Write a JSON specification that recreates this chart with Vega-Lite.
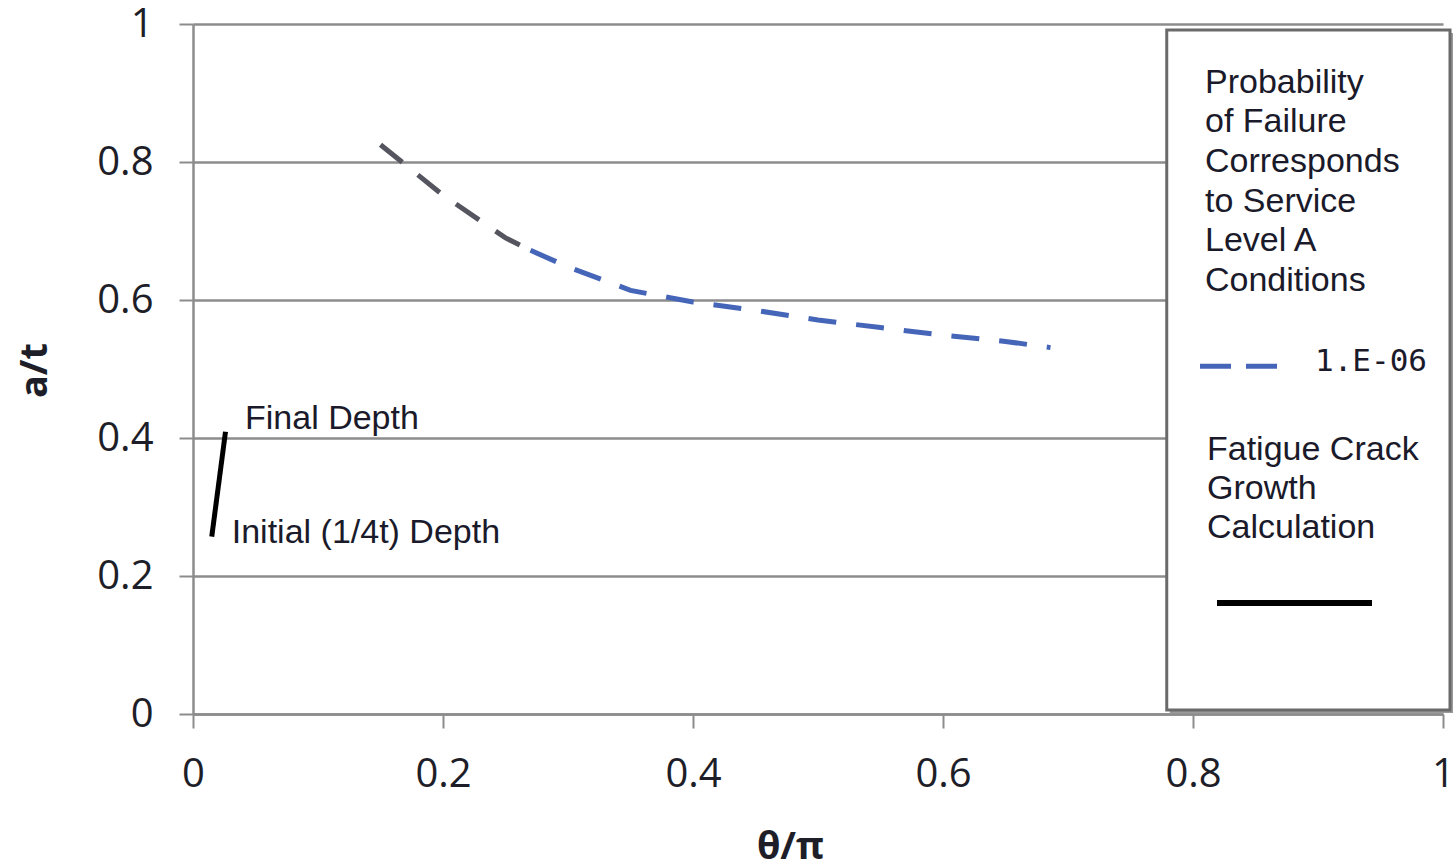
{
  "$schema": "https://vega.github.io/schema/vega-lite/v6.json",
  "width": 1250,
  "height": 690,
  "autosize": {"type": "none"},
  "padding": {"left": 193, "top": 24, "right": 13, "bottom": 154},
  "background": "white",
  "config": {
    "view": {"stroke": null},
    "axis": {
      "domainColor": "#8c8c8c",
      "domainWidth": 2.5,
      "tickColor": "#8c8c8c",
      "tickWidth": 2,
      "tickSize": 14,
      "labelFont": "Open Sans",
      "labelFontSize": 40,
      "labelColor": "#1e1e28",
      "labelFlush": false,
      "labelOverlap": false,
      "titleFont": "Open Sans",
      "titleFontSize": 38,
      "titleFontWeight": "bold",
      "titleColor": "#1e1e28",
      "gridColor": "#8c8c8c",
      "gridWidth": 2.5
    }
  },
  "datasets": {
    "pof": [
      {"x": 0.15, "y": 0.825, "series": "upper"},
      {"x": 0.2, "y": 0.752, "series": "upper"},
      {"x": 0.25, "y": 0.69, "series": "upper"},
      {"x": 0.27, "y": 0.672, "series": "upper"},
      {"x": 0.27, "y": 0.672, "series": "lower"},
      {"x": 0.3, "y": 0.648, "series": "lower"},
      {"x": 0.35, "y": 0.614, "series": "lower"},
      {"x": 0.4, "y": 0.597, "series": "lower"},
      {"x": 0.45, "y": 0.585, "series": "lower"},
      {"x": 0.5, "y": 0.571, "series": "lower"},
      {"x": 0.55, "y": 0.56, "series": "lower"},
      {"x": 0.6, "y": 0.549, "series": "lower"},
      {"x": 0.65, "y": 0.54, "series": "lower"},
      {"x": 0.686, "y": 0.531, "series": "lower"}
    ],
    "crack": [
      {"x": 0.015, "y": 0.257},
      {"x": 0.026, "y": 0.409}
    ],
    "notes": [
      {"x": 0.0416, "y": 0.4275, "label": "Final Depth"},
      {"x": 0.031, "y": 0.262, "label": "Initial (1/4t) Depth"}
    ],
    "legendBox": [
      {"x0": 0.779, "x1": 1.0056, "y0": 0.0058, "y1": 0.9913}
    ],
    "legendText": [
      {"x": 0.8096, "y": 0.9145, "label": "Probability"},
      {"x": 0.8096, "y": 0.858, "label": "of Failure"},
      {"x": 0.8096, "y": 0.8, "label": "Corresponds"},
      {"x": 0.8096, "y": 0.742, "label": "to Service"},
      {"x": 0.8096, "y": 0.686, "label": "Level A"},
      {"x": 0.8096, "y": 0.628, "label": "Conditions"},
      {"x": 0.8112, "y": 0.3826, "label": "Fatigue Crack"},
      {"x": 0.8112, "y": 0.326, "label": "Growth"},
      {"x": 0.8112, "y": 0.2696, "label": "Calculation"}
    ],
    "legendValue": [
      {"x": 0.8976, "y": 0.51, "label": "1.E-06"}
    ],
    "legendDash": [
      {"x": 0.8056, "y": 0.504},
      {"x": 0.868, "y": 0.504}
    ],
    "legendSolid": [
      {"x": 0.8192, "y": 0.1609},
      {"x": 0.9432, "y": 0.1609}
    ]
  },
  "encoding": {
    "x": {
      "field": "x",
      "type": "quantitative",
      "scale": {"domain": [0, 1], "nice": false, "zero": false},
      "axis": {
        "values": [0, 0.2, 0.4, 0.6, 0.8, 1],
        "format": "~g",
        "grid": false,
        "labelPadding": 26,
        "title": "θ/π",
        "titleX": 597,
        "titleY": 133,
        "titleBaseline": "middle",
        "titleAlign": "center"
      }
    },
    "y": {
      "field": "y",
      "type": "quantitative",
      "scale": {"domain": [0, 1], "nice": false, "zero": false},
      "axis": {
        "values": [0, 0.2, 0.4, 0.6, 0.8, 1],
        "format": "~g",
        "grid": true,
        "labelPadding": 26,
        "title": "a/t",
        "titleAngle": -90,
        "titleX": -158,
        "titleY": 346,
        "titleBaseline": "middle",
        "titleAlign": "center"
      }
    }
  },
  "layer": [
    {
      "data": {"name": "pof"},
      "mark": {"type": "line", "strokeWidth": 5, "strokeDash": [28, 20]},
      "encoding": {
        "color": {
          "field": "series",
          "type": "nominal",
          "scale": {"domain": ["upper", "lower"], "range": ["#55555f", "#4565b8"]},
          "legend": null
        }
      }
    },
    {
      "data": {"name": "crack"},
      "mark": {"type": "line", "strokeWidth": 5, "color": "#000000"}
    },
    {
      "data": {"name": "notes"},
      "mark": {"type": "text", "align": "left", "baseline": "middle", "font": "Arial", "fontSize": 34, "color": "#1a1a2a"},
      "encoding": {"text": {"field": "label"}}
    },
    {
      "data": {"name": "legendBox"},
      "mark": {"type": "rect", "fill": "#9a9a9a", "xOffset": 3, "yOffset": 3, "x2Offset": 3, "y2Offset": 3},
      "encoding": {
        "x": {"field": "x0", "type": "quantitative"},
        "x2": {"field": "x1"},
        "y": {"field": "y0", "type": "quantitative"},
        "y2": {"field": "y1"}
      }
    },
    {
      "data": {"name": "legendBox"},
      "mark": {"type": "rect", "fill": "#ffffff", "stroke": "#6a6a6a", "strokeWidth": 3},
      "encoding": {
        "x": {"field": "x0", "type": "quantitative"},
        "x2": {"field": "x1"},
        "y": {"field": "y0", "type": "quantitative"},
        "y2": {"field": "y1"}
      }
    },
    {
      "data": {"name": "legendText"},
      "mark": {"type": "text", "align": "left", "baseline": "middle", "font": "Arial", "fontSize": 34, "color": "#1a1a2a"},
      "encoding": {"text": {"field": "label"}}
    },
    {
      "data": {"name": "legendValue"},
      "mark": {"type": "text", "align": "left", "baseline": "middle", "font": "DejaVu Sans Mono", "fontSize": 31, "color": "#1a1a2a"},
      "encoding": {"text": {"field": "label"}}
    },
    {
      "data": {"name": "legendDash"},
      "mark": {"type": "line", "strokeWidth": 5, "strokeDash": [31, 15], "color": "#4565b8"}
    },
    {
      "data": {"name": "legendSolid"},
      "mark": {"type": "line", "strokeWidth": 6, "color": "#000000"}
    }
  ]
}
